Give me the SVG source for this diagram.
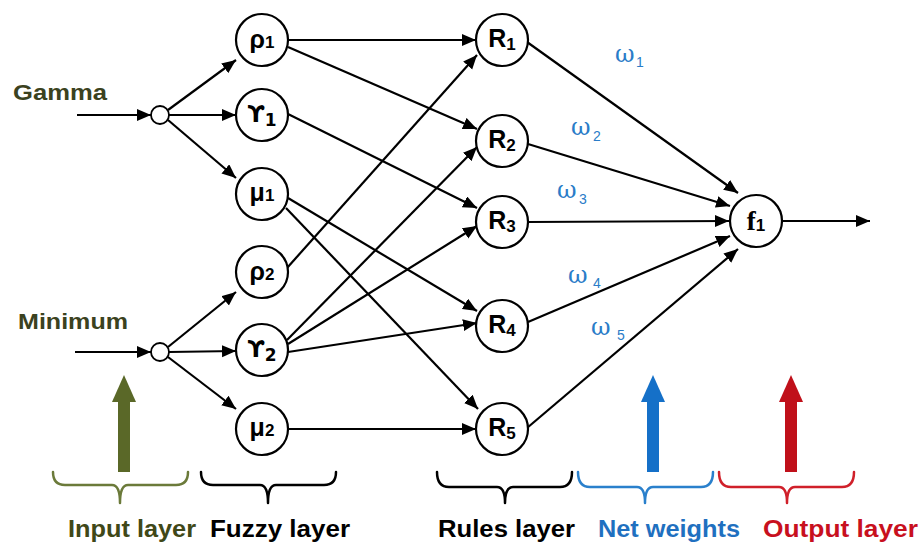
<svg xmlns="http://www.w3.org/2000/svg" width="922" height="545" viewBox="0 0 922 545">
<style>
.node{fill:#fff;stroke:#000;stroke-width:2.2}
.small{fill:#fff;stroke:#000;stroke-width:1.8}
.lbl{font-family:"Liberation Sans","DejaVu Sans",sans-serif;font-weight:bold;font-size:25px;fill:#000;text-anchor:middle}
.ups{font-family:"DejaVu Sans","Liberation Sans",sans-serif;font-size:23px}
.sub{font-size:17px}
.fl{font-family:"Liberation Serif","DejaVu Serif",serif;font-weight:bold;font-size:27px;text-anchor:middle}
.con{stroke:#000;stroke-width:2.2;fill:none;marker-end:url(#ah)}
.in{font-family:"Liberation Sans",Arial,sans-serif;font-weight:bold;font-size:22px;fill:#3b4220}
.cap{font-family:"Liberation Sans",Arial,sans-serif;font-weight:bold;font-size:23px}
.om{font-family:"DejaVu Serif","Liberation Serif",serif;font-size:24px;fill:#2a7cc8}
.oms{font-family:"Liberation Sans",sans-serif;font-size:14px;fill:#2a7cc8}
.brace{fill:none;stroke-width:2.5;stroke-linecap:round;stroke-linejoin:round}
</style>
<defs>
<marker id="ah" markerUnits="userSpaceOnUse" markerWidth="15" markerHeight="13" refX="14" refY="6" orient="auto">
<path d="M0,0 L14,6 L0,12 z" fill="#000"/>
</marker>
</defs>
<rect width="922" height="545" fill="#fff"/>

<g id="connectors">
<line class="con" x1="77" y1="115" x2="151" y2="115"/>
<line class="con" x1="75" y1="352" x2="151" y2="352"/>
<line class="con" x1="168" y1="110" x2="236" y2="60"/>
<line class="con" x1="169" y1="115" x2="236" y2="115"/>
<line class="con" x1="168" y1="120" x2="236" y2="178"/>
<line class="con" x1="168" y1="347" x2="236" y2="292"/>
<line class="con" x1="169" y1="352" x2="236" y2="351"/>
<line class="con" x1="168" y1="357" x2="236" y2="409"/>
<line class="con" x1="288" y1="40" x2="476" y2="40"/>
<line class="con" x1="288" y1="47" x2="477" y2="129"/>
<line class="con" x1="288" y1="114" x2="477" y2="208"/>
<line class="con" x1="288" y1="198" x2="477" y2="311"/>
<line class="con" x1="286" y1="208" x2="478" y2="409"/>
<line class="con" x1="287" y1="268" x2="477" y2="55"/>
<line class="con" x1="287" y1="340" x2="477" y2="147"/>
<line class="con" x1="288" y1="344" x2="477" y2="226"/>
<line class="con" x1="288" y1="352" x2="477" y2="323"/>
<line class="con" x1="288" y1="429" x2="476" y2="429"/>
<line class="con" x1="527" y1="42" x2="738" y2="193"/>
<line class="con" x1="528" y1="144" x2="730" y2="206"/>
<line class="con" x1="528" y1="222" x2="729" y2="221"/>
<line class="con" x1="528" y1="322" x2="730" y2="236"/>
<line class="con" x1="527" y1="428" x2="738" y2="249"/>
<line class="con" x1="782" y1="221" x2="870" y2="221"/>
</g>

<g id="input-gamma">
<text class="in" x="13" y="100" textLength="94" lengthAdjust="spacingAndGlyphs">Gamma</text>
<circle class="small" cx="160" cy="115" r="9"/>
</g>
<g id="input-minimum">
<text class="in" x="18" y="329" textLength="110" lengthAdjust="spacingAndGlyphs">Minimum</text>
<circle class="small" cx="160" cy="352" r="9"/>
</g>

<g id="rho1"><circle class="node" cx="262" cy="40" r="26"/><text class="lbl" x="262" y="48">ρ<tspan class="sub" dy="0">1</tspan></text></g>
<g id="ups1"><circle class="node" cx="262" cy="115" r="26"/><text class="lbl ups" x="262" y="122">ϒ<tspan class="sub" dy="4">1</tspan></text></g>
<g id="mu1"><circle class="node" cx="262" cy="194" r="26"/><text class="lbl" x="262" y="201">μ<tspan class="sub" dy="0">1</tspan></text></g>
<g id="rho2"><circle class="node" cx="262" cy="272" r="26"/><text class="lbl" x="262" y="280">ρ<tspan class="sub" dy="0">2</tspan></text></g>
<g id="ups2"><circle class="node" cx="262" cy="350" r="26"/><text class="lbl ups" x="262" y="357">ϒ<tspan class="sub" dy="4">2</tspan></text></g>
<g id="mu2"><circle class="node" cx="262" cy="429" r="26"/><text class="lbl" x="262" y="436">μ<tspan class="sub" dy="0">2</tspan></text></g>

<g id="R1"><circle class="node" cx="502" cy="40" r="26"/><text class="lbl" x="502" y="47">R<tspan class="sub" dy="3">1</tspan></text></g>
<g id="R2"><circle class="node" cx="502" cy="141" r="26"/><text class="lbl" x="502" y="148">R<tspan class="sub" dy="3">2</tspan></text></g>
<g id="R3"><circle class="node" cx="502" cy="222" r="26"/><text class="lbl" x="502" y="229">R<tspan class="sub" dy="3">3</tspan></text></g>
<g id="R4"><circle class="node" cx="502" cy="326" r="26"/><text class="lbl" x="502" y="333">R<tspan class="sub" dy="3">4</tspan></text></g>
<g id="R5"><circle class="node" cx="502" cy="429" r="26"/><text class="lbl" x="502" y="436">R<tspan class="sub" dy="3">5</tspan></text></g>

<g id="f1"><circle class="node" cx="756" cy="221" r="26"/><text class="fl" x="756" y="230">f<tspan class="sub" dy="1" font-family="Liberation Sans">1</tspan></text></g>

<g id="weights">
<text class="om" x="615" y="62">ω</text><text class="oms" x="636" y="67">1</text>
<text class="om" x="571" y="135">ω</text><text class="oms" x="593" y="141">2</text>
<text class="om" x="557" y="198">ω</text><text class="oms" x="579" y="204">3</text>
<text class="om" x="568" y="283">ω</text><text class="oms" x="593" y="288">4</text>
<text class="om" x="591" y="335">ω</text><text class="oms" x="617" y="340">5</text>
</g>

<g id="legend-input">
<rect x="118" y="400" width="12" height="72" fill="#5a6828"/>
<polygon points="112,402 124,375 136,402" fill="#5a6828"/>
<path class="brace" stroke="#6b7a3a" d="M53,472 Q53,485 65,485 L112,485 Q120,485 120,503 Q120,485 128,485 L176,485 Q188,485 188,472"/>
<text class="cap" x="68" y="537" fill="#404818" textLength="128" lengthAdjust="spacingAndGlyphs">Input layer</text>
</g>
<g id="legend-fuzzy">
<path class="brace" stroke="#000" d="M201,472 Q201,485 213,485 L260,485 Q268,485 268,503 Q268,485 276,485 L324,485 Q336,485 336,472"/>
<text class="cap" x="210" y="537" fill="#000" textLength="140" lengthAdjust="spacingAndGlyphs">Fuzzy layer</text>
</g>
<g id="legend-rules">
<path class="brace" stroke="#000" d="M437,472 Q437,487 449,487 L497,487 Q505,487 505,503 Q505,487 513,487 L560,487 Q572,487 572,472"/>
<text class="cap" x="438" y="537" fill="#000" textLength="137" lengthAdjust="spacingAndGlyphs">Rules layer</text>
</g>
<g id="legend-weights">
<rect x="647" y="400" width="12" height="72" fill="#1570c8"/>
<polygon points="641,402 653,375 665,402" fill="#1570c8"/>
<path class="brace" stroke="#2a80cc" d="M578,472 Q578,487 590,487 L637,487 Q645,487 645,503 Q645,487 653,487 L701,487 Q713,487 713,472"/>
<text class="cap" x="598" y="537" fill="#1f70c0" textLength="142" lengthAdjust="spacingAndGlyphs">Net weights</text>
</g>
<g id="legend-output">
<rect x="785" y="400" width="12" height="72" fill="#c0101a"/>
<polygon points="779,402 791,375 803,402" fill="#c0101a"/>
<path class="brace" stroke="#d0202a" d="M719,472 Q719,487 731,487 L779,487 Q787,487 787,503 Q787,487 795,487 L842,487 Q854,487 854,472"/>
<text class="cap" x="763" y="537" fill="#c8101e" textLength="155" lengthAdjust="spacingAndGlyphs">Output layer</text>
</g>
</svg>
